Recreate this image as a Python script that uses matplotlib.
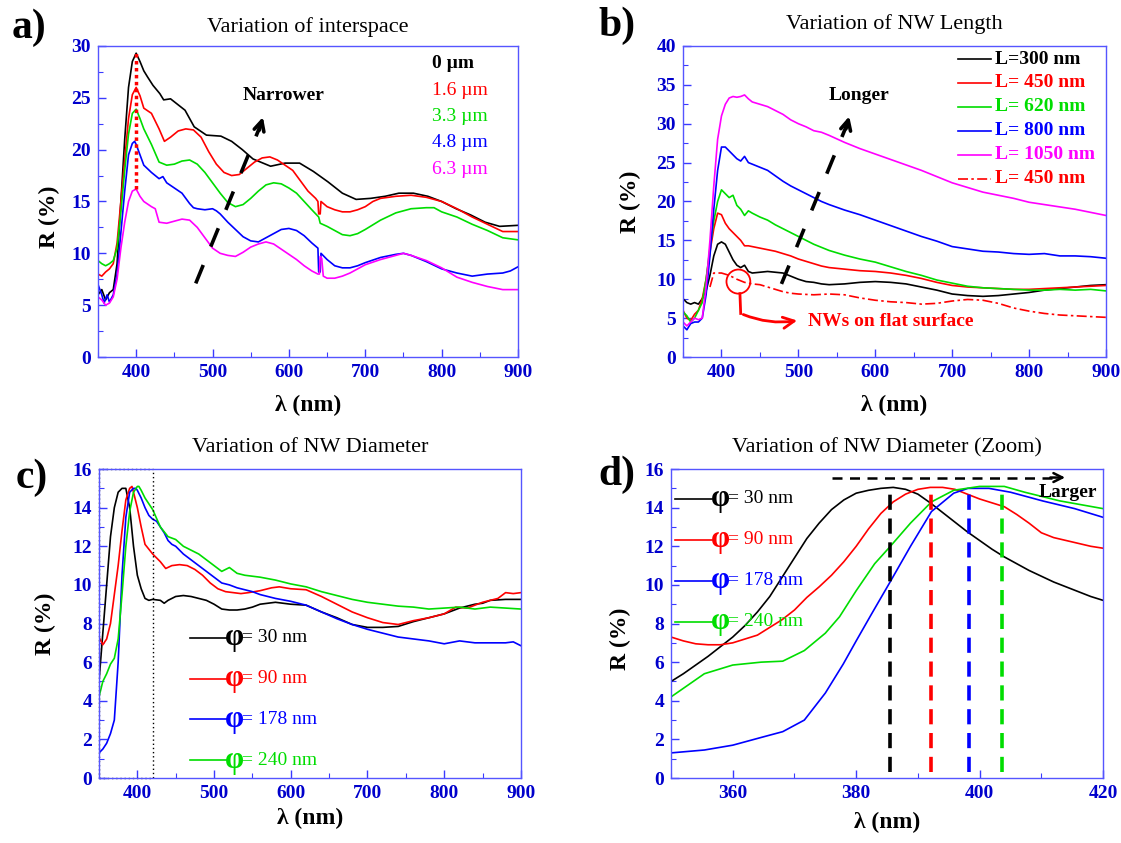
import matplotlib
matplotlib.use('Agg')
import matplotlib.pyplot as plt
from matplotlib.ticker import MultipleLocator
from matplotlib.patches import Ellipse

plt.rcParams['font.family'] = ['Liberation Serif', 'DejaVu Serif']

# ---------------- Panel a : variation of interspace ----------------
a_labels = ['0 µm', '1.6 µm', '3.3 µm', '4.8 µm', '6.3 µm']
a_colors = ['black', '#ff0000', '#00dd00', '#0000ff', '#ff00ff']

a_black_x = [350,355,360,365,370,375,380,385,390,395,400,405,410,415,422,431,436,445,464,476,492,511,525,539,553,576,595,614,632,651,670,688,707,726,744,763,782,800,819,838,857,876,900]
a_black_y = [6.0,6.5,5.5,6.2,6.5,9.0,15.0,21.0,26.0,28.5,29.3,28.5,27.6,27.0,26.2,25.4,24.8,24.9,23.8,22.2,21.4,21.3,20.8,20.0,19.1,18.4,18.7,18.7,17.9,16.9,15.8,15.2,15.3,15.5,15.8,15.8,15.5,15.0,14.3,13.7,13.0,12.6,12.7]

a_red_x = [350,355,360,365,370,375,380,385,390,395,400,405,410,420,430,437,445,455,465,475,485,495,505,515,525,535,545,555,565,575,585,595,605,615,625,635,638,639,641,642,650,660,670,680,690,700,710,720,740,760,780,800,820,840,860,880,900]
a_red_y = [8.0,7.8,8.2,8.5,9.0,11,15,19,23,25.3,26.0,25.2,24.0,23.5,22.0,20.8,21.2,21.8,22.0,21.9,21.2,19.8,18.6,17.8,17.5,17.6,18.2,18.8,19.2,19.3,19.0,18.5,18.0,17.0,16.0,15.3,15.0,13.8,13.8,15.0,14.5,14.2,14.0,14.0,14.2,14.5,15.0,15.3,15.5,15.6,15.4,15.0,14.3,13.5,12.8,12.1,12.1]

a_green_x = [350,355,360,365,370,375,380,385,390,395,400,405,410,420,430,440,450,460,470,480,490,500,510,520,530,540,550,560,570,580,590,600,610,620,630,639,641,650,660,670,680,690,700,720,740,760,780,790,800,820,840,860,880,900]
a_green_y = [9.3,9.0,8.8,9.0,9.3,10.5,14,18,21.5,23.5,23.9,23.0,22.0,20.5,18.8,18.5,18.6,18.9,19.0,18.6,17.8,16.8,15.8,14.9,14.5,14.7,15.3,16.0,16.6,16.8,16.7,16.3,15.8,15.0,14.2,13.5,12.9,12.6,12.2,11.8,11.7,11.9,12.3,13.2,13.9,14.3,14.4,14.4,14.0,13.5,12.8,12.2,11.5,11.3]

a_blue_x = [350,355,358,362,365,370,375,380,385,390,395,398,400,405,410,420,430,435,440,450,460,470,475,480,490,500,505,510,520,530,540,550,560,570,580,590,600,610,620,630,638,639,641,642,650,660,670,680,690,700,720,740,750,760,780,800,820,840,860,880,890,900]
a_blue_y = [7.0,6.0,5.2,6.0,5.3,6.0,8,12,16,19.5,20.6,20.8,20.5,19.5,18.5,17.8,17.2,17.4,16.8,16.3,15.8,14.8,14.4,14.3,14.2,14.3,14.1,13.8,13.0,12.3,11.6,11.2,11.1,11.5,11.9,12.3,12.4,12.2,11.7,11.0,10.5,8.2,8.2,10.0,9.4,8.8,8.6,8.6,8.8,9.1,9.6,9.9,10.0,9.8,9.2,8.5,8.1,7.8,8.0,8.1,8.3,8.7]

a_mag_x = [350,355,360,365,370,375,380,385,390,395,400,405,410,420,425,430,440,450,460,470,480,490,500,510,520,530,540,550,560,570,580,590,600,610,620,630,638,640,641,643,645,650,660,670,680,700,720,740,750,760,780,800,820,840,860,880,900]
a_mag_y = [5.8,5.5,5.0,5.2,5.8,7.5,10.5,13,15,16,16.2,15.5,15.0,14.5,14.3,13.0,12.9,13.1,13.3,13.2,12.5,11.5,10.5,10.0,9.8,9.7,10.1,10.6,10.9,11.1,10.9,10.4,9.9,9.4,8.8,8.3,8.0,8.0,9.7,9.5,7.8,7.6,7.6,7.8,8.1,8.9,9.4,9.8,10.0,9.8,9.3,8.6,7.7,7.2,6.8,6.5,6.5]

a_peak_x = 400
a_peak_range = [16.2, 29.3]

# ---------------- Panel b : variation of NW length ----------------
b_labels = ['L=300 nm', 'L= 450 nm', 'L= 620 nm', 'L= 800 nm', 'L= 1050 nm', 'L= 450 nm']
b_colors = ['black', '#ff0000', '#00dd00', '#0000ff', '#ff00ff', '#ff0000']

b_x = [350,355,360,365,370,375,380,385,390,395,400,405,410,415,420,425,430,435,440,450,460,470,480,490,500,510,520,530,540,560,580,600,620,640,660,680,700,720,740,760,780,800,820,840,860,880,900]
b_l300 = [7.5,7.0,6.8,7.0,6.8,7.5,8.5,10.5,13,14.5,14.8,14.5,13.5,12.5,11.8,11.5,11.8,11.0,10.8,10.9,11.0,10.9,10.8,10.4,10.0,9.7,9.6,9.4,9.3,9.4,9.6,9.7,9.6,9.4,9.0,8.6,8.1,7.9,7.8,7.9,8.1,8.3,8.6,8.8,9.0,9.2,9.3]
b_l450 = [6.0,5.0,4.7,5.5,6.0,7.5,10,13.5,16.5,18.5,18.3,17.2,16.5,16.0,15.5,15.0,14.3,14.3,14.2,14.0,13.8,13.6,13.3,13.0,12.6,12.3,12.0,11.7,11.5,11.3,11.1,11.0,10.8,10.5,10.1,9.6,9.2,9.0,8.9,8.8,8.7,8.7,8.8,8.9,9.0,9.1,9.2]
b_l620 = [5.8,5.3,4.5,5.0,6.0,7.0,10,14,17.5,20,21.5,21.0,20.5,20.8,19.5,19.0,18.2,18.8,18.5,18.0,17.6,17.0,16.5,16.0,15.5,15.0,14.5,14.1,13.7,13.1,12.6,12.2,11.6,11.0,10.5,9.9,9.5,9.1,8.9,8.8,8.7,8.6,8.6,8.7,8.6,8.7,8.5]
b_l800 = [4.0,3.5,4.3,4.5,4.5,5.0,8,13,19,24,27.0,27.0,26.5,26.0,25.5,25.2,25.8,25.0,24.8,24.4,24.0,23.3,22.6,22.0,21.5,21.0,20.5,20.0,19.6,18.9,18.3,17.6,16.9,16.2,15.5,14.9,14.2,13.9,13.6,13.5,13.3,13.2,13.3,13.0,13.0,12.9,12.7]
b_l1050 = [4.5,4.0,4.5,5.0,4.8,5.0,9,15,22,28,31,32.5,33.3,33.5,33.4,33.5,33.7,33.2,32.8,32.5,32.2,31.7,31.2,30.5,30.0,29.6,29.1,28.9,28.5,27.6,26.8,26.1,25.4,24.7,24.0,23.2,22.4,21.8,21.2,20.8,20.4,19.9,19.6,19.3,19.0,18.6,18.2]

b_flat_x = [385,390,400,410,420,430,440,450,460,470,480,490,500,520,540,560,580,600,620,640,660,680,700,720,740,760,780,800,820,840,860,880,900]
b_flat_y = [9.0,10.8,10.8,10.5,10.0,9.6,9.4,9.3,9.0,8.7,8.4,8.2,8.1,8.0,8.1,8.0,7.6,7.3,7.1,7.0,6.8,6.9,7.2,7.4,7.3,6.9,6.3,5.9,5.6,5.4,5.3,5.2,5.1]

# ---------------- Panel c : variation of NW diameter ----------------
cd_labels = ['= 30 nm', '= 90 nm', '= 178 nm', '= 240 nm']
cd_colors = ['black', '#ff0000', '#0000ff', '#00dd00']

c_black_x = [350,355,360,365,370,375,380,385,390,395,400,405,410,415,420,430,435,440,450,460,470,480,490,500,510,520,530,540,550,560,570,580,590,600,620,640,660,680,700,720,740,760,780,800,820,840,850,860,880,900]
c_black_y = [5.0,7.5,10,12.5,14.0,14.8,15.0,15.0,14.0,12.0,10.5,9.8,9.3,9.2,9.25,9.2,9.05,9.2,9.4,9.45,9.4,9.3,9.2,9.0,8.75,8.7,8.7,8.75,8.85,9.0,9.05,9.1,9.05,9.0,8.95,8.6,8.3,7.95,7.8,7.8,7.85,8.1,8.3,8.5,8.8,9.0,9.05,9.2,9.25,9.25]

c_red_x = [350,355,360,365,370,375,380,385,390,393,395,400,405,410,420,430,437,445,455,465,475,485,495,505,515,525,535,545,560,575,585,600,620,640,660,680,700,720,740,760,780,800,815,830,850,870,880,890,900]
c_red_y = [7.3,6.9,7.2,8.0,9.5,11.0,12.8,14.4,15.0,15.1,14.8,14.0,13.0,12.1,11.6,11.2,10.85,11.0,11.05,11.0,10.8,10.5,10.1,9.8,9.65,9.6,9.55,9.6,9.7,9.85,9.9,9.8,9.75,9.4,9.0,8.6,8.3,8.05,7.95,8.15,8.3,8.5,8.85,8.8,9.1,9.3,9.6,9.55,9.6]

c_blue_x = [350,355,360,365,370,375,380,385,390,395,398,400,405,410,415,420,425,430,435,440,445,450,460,470,480,490,500,510,520,530,540,550,560,570,580,600,620,640,660,680,700,720,740,760,780,800,820,840,860,880,890,900]
c_blue_y = [1.3,1.5,1.8,2.3,3.0,6.0,10.5,13.5,14.8,15.0,15.0,14.9,14.5,14.0,13.6,13.4,13.3,13.0,12.7,12.3,12.1,12.0,11.6,11.3,11.0,10.7,10.4,10.1,10.0,9.85,9.75,9.65,9.5,9.4,9.3,9.15,8.95,8.6,8.25,7.95,7.7,7.5,7.3,7.2,7.1,6.95,7.1,7.0,7.0,7.0,7.05,6.85]

c_green_x = [350,355,360,365,370,375,380,385,390,395,400,402,405,410,415,420,430,440,450,460,470,480,490,500,510,520,530,540,550,560,580,600,620,640,660,680,700,720,740,760,780,800,820,840,860,880,900]
c_green_y = [4.2,5.0,5.4,5.9,6.2,7.2,9.5,12.0,13.8,14.8,15.1,15.1,14.9,14.5,14.2,13.9,13.0,12.5,12.35,12.0,11.8,11.6,11.3,11.0,10.7,10.9,10.6,10.5,10.45,10.4,10.25,10.05,9.9,9.65,9.45,9.25,9.1,9.0,8.9,8.85,8.75,8.8,8.85,8.75,8.85,8.8,8.75]

# ---------------- Panel d : zoom ----------------
d_black_x = [350,352,354,356,358,360,362,364,366,368,370,372,374,376,378,380,382,384,386,388,390,392,394,396,398,400,402,404,406,408,410,412,414,416,418,420]
d_black_y = [5.0,5.4,5.85,6.3,6.8,7.3,7.9,8.6,9.4,10.4,11.4,12.4,13.2,13.9,14.4,14.75,14.9,15.0,15.05,14.95,14.7,14.25,13.75,13.25,12.75,12.3,11.85,11.45,11.1,10.75,10.45,10.15,9.9,9.65,9.4,9.2]

d_red_x = [350,352,354,356,358,360,362,364,366,368,370,372,374,376,378,380,382,384,386,388,390,392,394,396,398,400,402,404,406,408,410,412,414,416,418,420]
d_red_y = [7.3,7.1,6.95,6.9,6.9,7.0,7.2,7.4,7.8,8.2,8.7,9.35,9.9,10.5,11.2,12.0,12.9,13.7,14.3,14.7,14.95,15.05,15.05,14.95,14.7,14.45,14.25,14.05,13.65,13.2,12.7,12.45,12.3,12.15,12.0,11.9]

d_blue_x = [350,355.4,360,364.6,368.1,371.6,375,377.9,380,382.5,385.4,388.8,392.2,395.8,398.1,401.5,405,410.2,415.4,420]
d_blue_y = [1.3,1.45,1.7,2.1,2.4,3.0,4.4,5.9,7.1,8.5,10.1,12.0,13.8,14.75,15.0,15.0,14.8,14.35,13.95,13.5]

d_green_x = [350,355.4,360,364.6,368.1,371.6,375,377.3,380,383,385.4,388.8,392.2,395.8,400,404,407.3,413,420]
d_green_y = [4.2,5.4,5.85,6.0,6.05,6.6,7.5,8.35,9.7,11.1,11.95,13.2,14.3,14.9,15.1,15.1,14.8,14.35,13.95]

d_peak_x = [385.5, 392.2, 398.2, 403.7]
d_peak_top = [15.0, 15.1, 15.05, 15.1]

TICK_COLOR = '#3a3aff'
LABEL_COLOR = '#0000cc'


def style(ax, xlim, ylim, xmaj, xmin, ymaj, ymin):
    ax.set_xlim(*xlim)
    ax.set_ylim(*ylim)
    ax.xaxis.set_major_locator(MultipleLocator(xmaj))
    ax.xaxis.set_minor_locator(MultipleLocator(xmin))
    ax.yaxis.set_major_locator(MultipleLocator(ymaj))
    ax.yaxis.set_minor_locator(MultipleLocator(ymin))
    for s in ax.spines.values():
        s.set_color('#5555ff')
        s.set_linewidth(1.0)
    ax.tick_params(which='both', direction='in', colors=TICK_COLOR,
                   labelcolor=LABEL_COLOR, top=False, right=False, labelsize=14)
    ax.tick_params(which='major', length=6, width=1.0, pad=5)
    ax.tick_params(which='minor', length=3.5, width=0.8)
    for lab in ax.get_xticklabels() + ax.get_yticklabels():
        lab.set_fontweight('bold')


fig = plt.figure(figsize=(11.21, 8.43), dpi=100)
axa = fig.add_axes([0.0874, 0.5765, 0.3747, 0.369])
axb = fig.add_axes([0.6093, 0.5765, 0.3773, 0.369])
axc = fig.add_axes([0.0883, 0.0771, 0.3764, 0.3665])
axd = fig.add_axes([0.5986, 0.0771, 0.3854, 0.3665])

LW = 1.2

# ---- a ----
for xs, ys, c in zip([a_black_x, a_red_x, a_green_x, a_blue_x, a_mag_x],
                     [a_black_y, a_red_y, a_green_y, a_blue_y, a_mag_y], a_colors):
    axa.plot(xs, ys, color=c, lw=LW)
axa.plot([a_peak_x, a_peak_x], a_peak_range, color='#ff0000', lw=2.5, linestyle=(0, (1, 1)))
style(axa, (350, 900), (0, 30), 100, 50, 5, 2.5)
for i, (lab, c) in enumerate(zip(a_labels, a_colors)):
    axa.text(0.795, 0.943 - i * 0.085, lab, transform=axa.transAxes, color=c,
             fontsize=14, fontweight='bold' if i == 0 else 'normal', va='center', ha='left')
axa.text(0.344, 0.842, 'Narrower', transform=axa.transAxes, fontsize=14,
         fontweight='bold', va='center', ha='left')
axa.plot([478, 562], [7.1, 22.2], color='black', lw=2.6, linestyle=(0, (5.5, 5.5)),
         solid_capstyle='butt')
axa.annotate('', xy=(567, 23.4), xytext=(560, 21.6),
             arrowprops=dict(arrowstyle='->', lw=2.6, color='black', mutation_scale=18))
axa.set_title('Variation of interspace', fontsize=16, pad=10)
axa.text(-0.115, 0.45, 'R (%)', transform=axa.transAxes, rotation=90, fontsize=17,
         fontweight='bold', va='center', ha='center')
axa.text(0.5, -0.155, 'λ (nm)', transform=axa.transAxes, fontsize=17,
         fontweight='bold', va='center', ha='center')

# ---- b ----
for ys, c in zip([b_l300, b_l450, b_l620, b_l800, b_l1050], b_colors[:5]):
    axb.plot(b_x, ys, color=c, lw=LW)
axb.plot(b_flat_x, b_flat_y, color='#ff0000', lw=LW, linestyle=(0, (6, 2, 1.5, 2)))
style(axb, (350, 900), (0, 40), 100, 50, 5, 2.5)
for i, (lab, c) in enumerate(zip(b_labels, b_colors)):
    y = 0.958 - i * 0.077
    ls = '-' if i < 5 else (0, (6, 2, 1.5, 2))
    axb.plot([0.651, 0.729], [y, y], transform=axb.transAxes, color=c, lw=LW, linestyle=ls)
    axb.text(0.738, y, lab, transform=axb.transAxes, color=c, fontsize=14,
             fontweight='bold', va='center', ha='left')
axb.text(0.344, 0.842, 'Longer', transform=axb.transAxes, fontsize=14,
         fontweight='bold', va='center', ha='left')
axb.plot([478, 562], [9.4, 29.6], color='black', lw=2.6, linestyle=(0, (5.5, 5.5)),
         solid_capstyle='butt')
axb.annotate('', xy=(567, 31.3), xytext=(561, 29.0),
             arrowprops=dict(arrowstyle='->', lw=2.6, color='black', mutation_scale=18))
axb.add_patch(Ellipse((422, 9.7), 31, 3.1, fill=False, edgecolor='#ff0000', lw=1.3))
axb.plot([424, 425], [8.15, 5.6], color='#ff0000', lw=2)
axb.annotate('', xy=(502, 4.75), xytext=(425, 5.6),
             arrowprops=dict(arrowstyle='->', lw=2, color='#ff0000', mutation_scale=20,
                             connectionstyle='arc3,rad=0.15'))
axb.text(0.295, 0.115, 'NWs on flat surface', transform=axb.transAxes, color='#ff0000',
         fontsize=14, fontweight='bold', va='center', ha='left')
axb.set_title('Variation of NW Length', fontsize=16, pad=12)
axb.text(-0.125, 0.5, 'R (%)', transform=axb.transAxes, rotation=90, fontsize=17,
         fontweight='bold', va='center', ha='center')
axb.text(0.5, -0.155, 'λ (nm)', transform=axb.transAxes, fontsize=17,
         fontweight='bold', va='center', ha='center')

# ---- c ----
for xs, ys, c in zip([c_black_x, c_red_x, c_blue_x, c_green_x],
                     [c_black_y, c_red_y, c_blue_y, c_green_y], cd_colors):
    axc.plot(xs, ys, color=c, lw=LW)
axc.plot([350, 420, 420, 350, 350], [0, 0, 16, 16, 0], color='black', lw=1.0,
         linestyle=(0, (1, 2)), clip_on=False)
style(axc, (350, 900), (0, 16), 100, 50, 2, 1)
for i, (lab, c) in enumerate(zip(cd_labels, cd_colors)):
    y = 0.454 - i * 0.132
    axc.plot([0.215, 0.308], [y, y], transform=axc.transAxes, color=c, lw=LW)
    axc.text(0.322, y, 'φ', transform=axc.transAxes, color=c, fontsize=22,
             fontweight='bold', va='center', ha='center')
    axc.text(0.338, y, lab, transform=axc.transAxes, color=c, fontsize=14,
             va='center', ha='left')
axc.set_title('Variation of NW Diameter', fontsize=16, pad=12)
axc.text(-0.128, 0.5, 'R (%)', transform=axc.transAxes, rotation=90, fontsize=17,
         fontweight='bold', va='center', ha='center')
axc.text(0.5, -0.13, 'λ (nm)', transform=axc.transAxes, fontsize=17,
         fontweight='bold', va='center', ha='center')

# ---- d ----
for xs, ys, c in zip([d_black_x, d_red_x, d_blue_x, d_green_x],
                     [d_black_y, d_red_y, d_blue_y, d_green_y], cd_colors):
    axd.plot(xs, ys, color=c, lw=LW)
for px, pt, c in zip(d_peak_x, d_peak_top, cd_colors):
    axd.plot([px, px], [0.3, pt], color=c, lw=2.6, linestyle=(0, (4.2, 2.4)))
axd.plot([376, 412], [15.56, 15.56], color='black', lw=1.8, linestyle=(0, (4, 3)))
axd.annotate('', xy=(414.3, 15.56), xytext=(411, 15.56),
             arrowprops=dict(arrowstyle='->', lw=1.8, color='black', mutation_scale=16))
axd.text(0.851, 0.925, 'Larger', transform=axd.transAxes, fontsize=14,
         fontweight='bold', va='center', ha='left')
style(axd, (350, 420), (0, 16), 20, 10, 2, 1)
for i, (lab, c) in enumerate(zip(cd_labels, cd_colors)):
    y = 0.904 - i * 0.133
    axd.plot([0.01, 0.094], [y, y], transform=axd.transAxes, color=c, lw=LW)
    axd.text(0.115, y, 'φ', transform=axd.transAxes, color=c, fontsize=22,
             fontweight='bold', va='center', ha='center')
    axd.text(0.132, y, lab, transform=axd.transAxes, color=c, fontsize=14,
             va='center', ha='left')
axd.set_title('Variation of NW Diameter (Zoom)', fontsize=16, pad=12)
axd.text(-0.118, 0.45, 'R (%)', transform=axd.transAxes, rotation=90, fontsize=17,
         fontweight='bold', va='center', ha='center')
axd.text(0.5, -0.145, 'λ (nm)', transform=axd.transAxes, fontsize=17,
         fontweight='bold', va='center', ha='center')

# panel letters
for (x, y, t) in [(0.010, 0.967, 'a)'), (0.534, 0.970, 'b)'), (0.014, 0.433, 'c)'), (0.534, 0.437, 'd)')]:
    fig.text(x, y, t, fontsize=30, fontweight='bold', va='center', ha='left')

fig.savefig('out.png', dpi=100, facecolor='white')
